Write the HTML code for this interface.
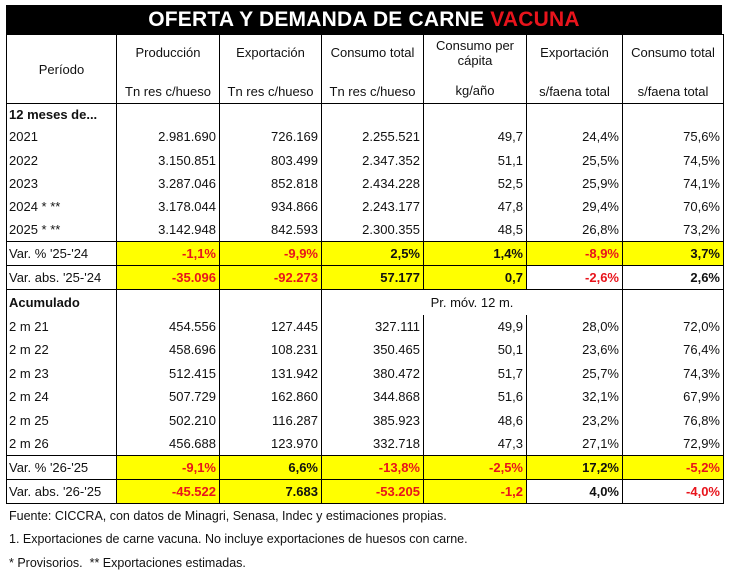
<!DOCTYPE html>
<html><head><meta charset="utf-8"><style>
body{margin:0;background:#fff;width:730px;height:578px;overflow:hidden;font-family:"Liberation Sans",Arial,sans-serif;}
.title{position:absolute;left:6px;top:5px;width:716px;height:29px;background:#000;color:#fff;font-weight:bold;font-size:21px;text-align:center;line-height:30px;letter-spacing:0.2px}
.title span{color:#e8141c}
table{position:absolute;left:6px;top:34px;border-collapse:collapse;table-layout:fixed;width:717px;font-size:13px;color:#111}
td{border-left:1px solid #000;border-right:1px solid #000;padding:0 3px;white-space:nowrap;text-align:right;overflow:hidden}
td.l{text-align:left;padding-left:2px}
td.c{text-align:center}
tr.hb td{border-bottom:1px solid #000}
.y{background:#ffff00}
.r{color:#e8141c;font-weight:bold}
.b{font-weight:bold}
table{border:1px solid #000}
.foot{position:absolute;left:9px;font-size:12.5px;color:#111}
</style></head><body>
<div class="title">OFERTA Y DEMANDA DE CARNE <span>VACUNA</span></div>
<table>
<colgroup><col style="width:110px"><col style="width:103px"><col style="width:102px"><col style="width:102px"><col style="width:103px"><col style="width:96px"><col style="width:101px"></colgroup>
<tr class="hb" style="height:69px">
<td class="c" style="vertical-align:middle">Período</td>
<td class="c" style="vertical-align:top;padding:10px 0 0">Producción<br><div style="height:24px"></div>Tn res c/hueso</td>
<td class="c" style="vertical-align:top;padding:10px 0 0">Exportación<br><div style="height:24px"></div>Tn res c/hueso</td>
<td class="c" style="vertical-align:top;padding:10px 0 0">Consumo total<br><div style="height:24px"></div>Tn res c/hueso</td>
<td class="c" style="vertical-align:top;padding:3px 0 0">Consumo per<br>cápita<div style="height:15px"></div>kg/año</td>
<td class="c" style="vertical-align:top;padding:10px 0 0">Exportación<br><div style="height:24px"></div>s/faena total</td>
<td class="c" style="vertical-align:top;padding:10px 0 0">Consumo total<br><div style="height:24px"></div>s/faena total</td>
</tr>
<tr style="height:21px"><td class="l b">12 meses de...</td><td></td><td></td><td></td><td></td><td></td><td></td></tr>
<tr style="height:24px"><td class="l">2021</td><td>2.981.690</td><td>726.169</td><td>2.255.521</td><td>49,7</td><td>24,4%</td><td>75,6%</td></tr>
<tr style="height:23px"><td class="l">2022</td><td>3.150.851</td><td>803.499</td><td>2.347.352</td><td>51,1</td><td>25,5%</td><td>74,5%</td></tr>
<tr style="height:23px"><td class="l">2023</td><td>3.287.046</td><td>852.818</td><td>2.434.228</td><td>52,5</td><td>25,9%</td><td>74,1%</td></tr>
<tr style="height:24px"><td class="l">2024 * **</td><td>3.178.044</td><td>934.866</td><td>2.243.177</td><td>47,8</td><td>29,4%</td><td>70,6%</td></tr>
<tr class="hb" style="height:23px"><td class="l">2025 * **</td><td>3.142.948</td><td>842.593</td><td>2.300.355</td><td>48,5</td><td>26,8%</td><td>73,2%</td></tr>
<tr class="hb" style="height:24px"><td class="l">Var. % '25-'24</td><td class="y r">-1,1%</td><td class="y r">-9,9%</td><td class="y b">2,5%</td><td class="y b">1,4%</td><td class="y r">-8,9%</td><td class="y b">3,7%</td></tr>
<tr class="hb" style="height:24px"><td class="l">Var. abs. '25-'24</td><td class="y r">-35.096</td><td class="y r">-92.273</td><td class="y b">57.177</td><td class="y b">0,7</td><td class="r">-2,6%</td><td class="b">2,6%</td></tr>
<tr style="height:25px"><td class="l b">Acumulado</td><td></td><td></td><td colspan="3" class="c">Pr. móv. 12 m.</td><td></td></tr>
<tr style="height:23px"><td class="l">2 m 21</td><td>454.556</td><td>127.445</td><td>327.111</td><td>49,9</td><td>28,0%</td><td>72,0%</td></tr>
<tr style="height:24px"><td class="l">2 m 22</td><td>458.696</td><td>108.231</td><td>350.465</td><td>50,1</td><td>23,6%</td><td>76,4%</td></tr>
<tr style="height:23px"><td class="l">2 m 23</td><td>512.415</td><td>131.942</td><td>380.472</td><td>51,7</td><td>25,7%</td><td>74,3%</td></tr>
<tr style="height:24px"><td class="l">2 m 24</td><td>507.729</td><td>162.860</td><td>344.868</td><td>51,6</td><td>32,1%</td><td>67,9%</td></tr>
<tr style="height:23px"><td class="l">2 m 25</td><td>502.210</td><td>116.287</td><td>385.923</td><td>48,6</td><td>23,2%</td><td>76,8%</td></tr>
<tr class="hb" style="height:24px"><td class="l">2 m 26</td><td>456.688</td><td>123.970</td><td>332.718</td><td>47,3</td><td>27,1%</td><td>72,9%</td></tr>
<tr class="hb" style="height:24px"><td class="l">Var. % '26-'25</td><td class="y r">-9,1%</td><td class="y b">6,6%</td><td class="y r">-13,8%</td><td class="y r">-2,5%</td><td class="y b">17,2%</td><td class="y r">-5,2%</td></tr>
<tr class="hb" style="height:24px"><td class="l">Var. abs. '26-'25</td><td class="y r">-45.522</td><td class="y b">7.683</td><td class="y r">-53.205</td><td class="y r">-1,2</td><td class="b">4,0%</td><td class="r">-4,0%</td></tr>
</table>
<div class="foot" style="top:509px">Fuente: CICCRA, con datos de Minagri, Senasa, Indec y estimaciones propias.</div>
<div class="foot" style="top:532px">1. Exportaciones de carne vacuna. No incluye exportaciones de huesos con carne.</div>
<div class="foot" style="top:556px">* Provisorios.&nbsp; ** Exportaciones estimadas.</div>
</body></html>
